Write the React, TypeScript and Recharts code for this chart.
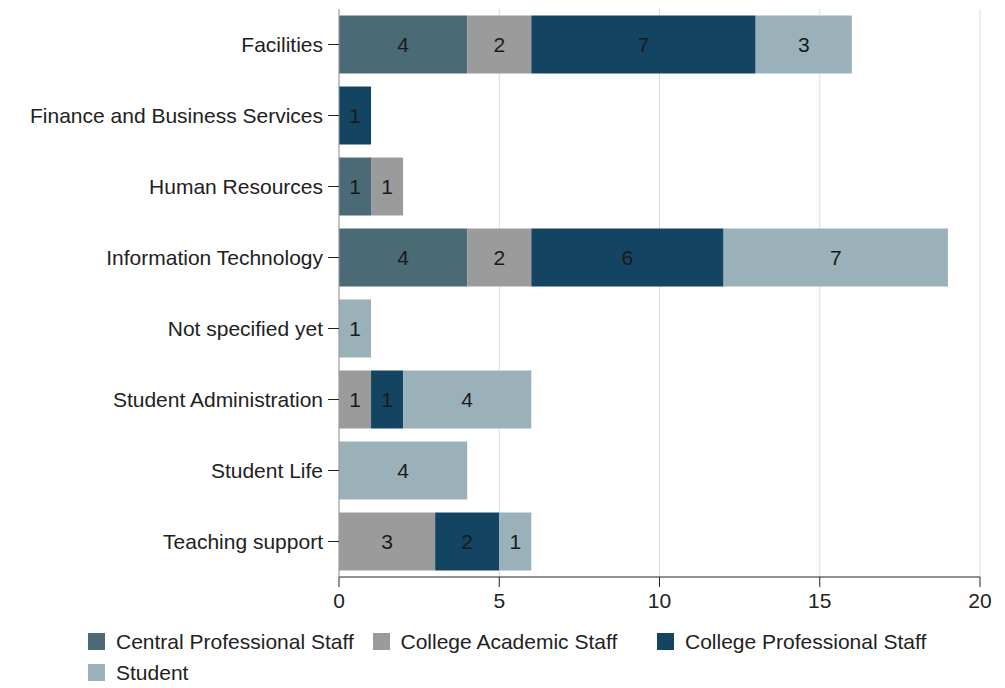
import { BarChart, Bar, XAxis, YAxis, CartesianGrid, Legend, LabelList } from "recharts";

const categories = [
  "Facilities",
  "Finance and Business Services",
  "Human Resources",
  "Information Technology",
  "Not specified yet",
  "Student Administration",
  "Student Life",
  "Teaching support",
];
const centralProfessional = [4, 0, 1, 4, 0, 0, 0, 0];
const collegeAcademic = [2, 0, 1, 2, 0, 1, 0, 3];
const collegeProfessional = [7, 1, 0, 6, 0, 1, 0, 2];
const student = [3, 0, 0, 7, 1, 4, 4, 1];
const xTicks = [0, 5, 10, 15, 20];

const series = [
  { key: "central", name: "Central Professional Staff", color: "#4a6a75" },
  { key: "academic", name: "College Academic Staff", color: "#9b9b9b" },
  { key: "collegeProf", name: "College Professional Staff", color: "#134562" },
  { key: "student", name: "Student", color: "#9bb1b9" },
];

const data = categories.map((name, i) => ({
  name,
  central: centralProfessional[i],
  academic: collegeAcademic[i],
  collegeProf: collegeProfessional[i],
  student: student[i],
}));

const FONT = "'Liberation Sans', Arial, sans-serif";
const FS = 21;

const hideZero = (v: any) => (v ? String(v) : "");

function LegendContent() {
  return (
    <div style={{ display: "flex", flexWrap: "wrap", width: 880, fontFamily: FONT, fontSize: FS, color: "#222" }}>
      {series.map((s) => (
        <div key={s.key} style={{ width: 284.5, height: 31, display: "flex", alignItems: "center" }}>
          <span style={{ display: "inline-block", width: 17, height: 17, background: s.color, marginRight: 11 }} />
          <span style={{ whiteSpace: "nowrap" }}>{s.name}</span>
        </div>
      ))}
    </div>
  );
}

export default function App() {
  return (
    <div style={{ position: "absolute", left: 0, top: 0, width: 1005, height: 688, background: "#fff" }}>
      <BarChart
        width={1005}
        height={688}
        data={data}
        layout="vertical"
        margin={{ top: 9, right: 25, left: 0, bottom: 9 }}
        barCategoryGap="9%"
      >
        <CartesianGrid horizontal={false} stroke="#dcdcdc" />
        <XAxis
          type="number"
          domain={[0, 20]}
          ticks={xTicks}
          height={40}
          axisLine={{ stroke: "#222" }}
          tickLine={{ stroke: "#222" }}
          tickSize={10}
          tickMargin={6}
          tick={{ fill: "#222", fontSize: FS, fontFamily: FONT }}
        />
        <YAxis
          type="category"
          dataKey="name"
          width={339}
          axisLine={{ stroke: "#9a9a9a" }}
          tickLine={{ stroke: "#222" }}
          tickSize={11}
          tickMargin={5}
          tick={{ fill: "#222", fontSize: FS, fontFamily: FONT }}
        />
        <Legend
          verticalAlign="bottom"
          height={62}
          content={<LegendContent />}
          wrapperStyle={{ left: 88, top: 626, width: 880 }}
        />
        {series.map((s) => (
          <Bar key={s.key} dataKey={s.key} name={s.name} stackId="a" fill={s.color} isAnimationActive={false}>
            <LabelList
              dataKey={s.key}
              position="center"
              formatter={hideZero}
              fill="#1a1a1a"
              style={{ fontSize: FS, fontFamily: FONT }}
            />
          </Bar>
        ))}
      </BarChart>
    </div>
  );
}
